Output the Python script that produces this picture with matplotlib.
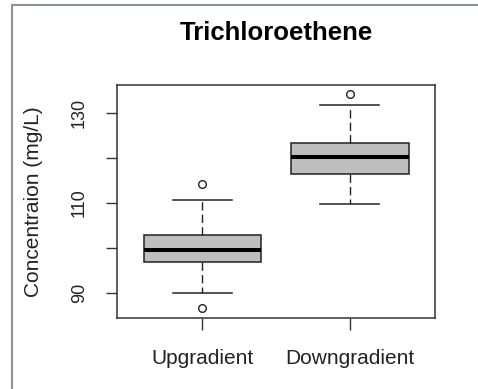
import matplotlib.pyplot as plt
from matplotlib.lines import Line2D

plt.rcParams['font.family'] = ['Liberation Sans', 'DejaVu Sans']

# 讀圖估計的箱形圖統計值
groups = ['Upgradient', 'Downgradient']
whislo = [90.0, 109.8]
q1 = [96.8, 116.4]
med = [99.6, 120.3]
q3 = [102.9, 123.3]
whishi = [110.7, 131.7]
fliers = [[114.3, 86.7], [134.1]]
yticks = [90, 110, 130]

stats = []
for i in range(len(groups)):
    stats.append({'label': groups[i], 'whislo': whislo[i], 'q1': q1[i], 'med': med[i],
                  'q3': q3[i], 'whishi': whishi[i], 'fliers': fliers[i]})

fig = plt.figure(figsize=(4.78, 3.89), dpi=100)
ax = fig.add_axes([117/478, 1-318/389, (435-117)/478, (318-85)/389])

edge = '#222222'
ax.bxp(stats, positions=[1, 2], widths=0.8, patch_artist=True, showfliers=True,
       boxprops=dict(facecolor='#bebebe', edgecolor=edge, linewidth=1.1),
       medianprops=dict(color='black', linewidth=2.9),
       whiskerprops=dict(color=edge, linewidth=1.0, linestyle=(0, (6, 3))),
       capprops=dict(color=edge, linewidth=1.1),
       capwidths=0.4,
       flierprops=dict(marker='o', markersize=5.5, markerfacecolor='white',
                       markeredgecolor=edge, markeredgewidth=1.0))

ax.set_xlim(0.42, 2.58)
ax.set_ylim(84.4, 136.2)
ax.set_yticks([90, 100, 110, 120, 130])
ax.set_yticklabels(['90', '', '110', '', '130'], rotation=90, va='center')
ax.set_xticks([1, 2])
ax.set_xticklabels(groups)
ax.tick_params(axis='y', length=8, width=1, color='#333333', labelsize=13, pad=13, labelcolor='#222222')
ax.tick_params(axis='x', length=8.5, width=1, color='#333333', labelsize=15, pad=13.5, labelcolor='#222222')
for s in ax.spines.values():
    s.set_color('#333333')
    s.set_linewidth(1.1)

ax.set_ylabel('Concentraion (mg/L)', fontsize=15, color='#222222', labelpad=20)
fig.text(276/478, 1-33/389, 'Trichloroethene', fontsize=18.5, fontweight='bold',
         ha='center', va='center')

# 截圖外框
fig.add_artist(Line2D([12/478, 12/478], [0, 1-4.5/389], color='#8a9597', linewidth=1.5))
fig.add_artist(Line2D([12/478, 1], [1-4.5/389, 1-4.5/389], color='#8a9597', linewidth=1.5))

plt.savefig('out.png', dpi=100)
